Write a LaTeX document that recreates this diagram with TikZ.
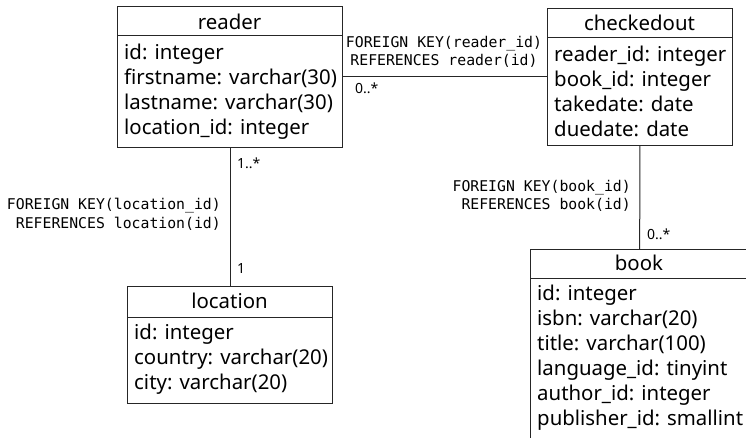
\documentclass[tikz,border=0pt]{standalone}
\usepackage{fontspec}
\setmainfont{Noto Sans}
\newfontfamily\monofont{DejaVu Sans Mono}
\begin{document}
\begin{tikzpicture}[x=1pt,y=-1pt,
  tbl/.style={draw=black!85, line width=1pt, rectangle, inner sep=0pt, anchor=north west},
  hline/.style={draw=black!85, line width=1pt},
  hdr/.style={font=\fontsize{20.4}{25}\selectfont, anchor=base, inner sep=0pt},
  fld/.style={font=\fontsize{20.4}{25}\selectfont, anchor=base west, inner sep=0pt},
  fkr/.style={font=\monofont\fontsize{14.8}{18}\selectfont, inner sep=0pt, anchor=base},
  fkl/.style={font=\monofont\fontsize{14.8}{18}\selectfont, inner sep=0pt, anchor=base east},
  mult/.style={font=\fontsize{14}{16}\selectfont, inner sep=0pt, anchor=base west},
  conn/.style={draw=black!85, line width=1pt}]
\clip (0,0) rectangle (746,438);
\fill[white] (0,0) rectangle (746,438);

% reader
\node[tbl, minimum width=225pt, minimum height=141pt] (reader) at (117,6) {};
\draw[hline] ([yshift=-30pt]reader.north west) -- ([yshift=-30pt]reader.north east);
\node[hdr] (readerH) at (229.5,30) {reader};
\node[fld] (r1) at (124,59.5) {id: integer};
\node[fld] (r2) at (124,84.5) {firstname: varchar(30)};
\node[fld] (r3) at (124,109.5) {lastname: varchar(30)};
\node[fld] (r4) at (124,134.5) {location\_id: integer};

% checkedout
\node[tbl, minimum width=185pt, minimum height=137pt] (checkedout) at (547,8) {};
\draw[hline] ([yshift=-30pt]checkedout.north west) -- ([yshift=-30pt]checkedout.north east);
\node[hdr] (checkedoutH) at (639.5,31) {checkedout};
\node[fld] (c1) at (554,61.5) {reader\_id: integer};
\node[fld] (c2) at (554,86.5) {book\_id: integer};
\node[fld] (c3) at (554,111.5) {takedate: date};
\node[fld] (c4) at (554,136.5) {duedate: date};

% location
\node[tbl, minimum width=205pt, minimum height=117pt] (location) at (127,286) {};
\draw[hline] ([yshift=-31pt]location.north west) -- ([yshift=-31pt]location.north east);
\node[hdr] (locationH) at (229.5,308) {location};
\node[fld] (l1) at (134,339) {id: integer};
\node[fld] (l2) at (134,364) {country: varchar(20)};
\node[fld] (l3) at (134,389) {city: varchar(20)};

% book
\node[tbl, minimum width=218pt, minimum height=200pt] (book) at (530,249) {};
\draw[hline] ([yshift=-29pt]book.north west) -- ([yshift=-29pt]book.north east);
\node[hdr] (bookH) at (639,270) {book};
\node[fld] (b1) at (537,300) {id: integer};
\node[fld] (b2) at (537,325) {isbn: varchar(20)};
\node[fld] (b3) at (537,350) {title: varchar(100)};
\node[fld] (b4) at (537,375) {language\_id: tinyint};
\node[fld] (b5) at (537,400) {author\_id: integer};
\node[fld] (b6) at (537,425) {publisher\_id: smallint};

% connectors
\draw[conn] (reader) -- (checkedout);
\draw[conn] (reader) -- (location);
\draw[conn] (checkedout) -- (book);

% labels
\node[fkr] (fk1a) at (444,48) {FOREIGN KEY(reader\_id)};
\node[fkr] (fk1b) at (444,66) {REFERENCES reader(id)};
\node[mult] (m1) at (355,94) {0..*};

\node[fkl] (fk2a) at (221,210) {FOREIGN KEY(location\_id)};
\node[fkl] (fk2b) at (221,228.5) {REFERENCES location(id)};
\node[mult] (m2) at (237,169) {1..*};
\node[mult] (m3) at (237,273) {1};

\node[fkl] (fk3a) at (631,192) {FOREIGN KEY(book\_id)};
\node[fkl] (fk3b) at (631,210) {REFERENCES book(id)};
\node[mult] (m4) at (647,240) {0..*};
\end{tikzpicture}
\end{document}
